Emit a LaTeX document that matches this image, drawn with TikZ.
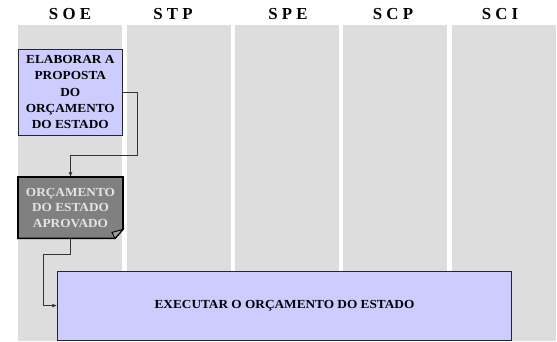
\documentclass[tikz,border=0pt]{standalone}
\usepackage{fontspec}
\setmainfont{Liberation Serif}
\newfontfamily\boxfont{Liberation Serif}[FakeStretch=1.08]
\usetikzlibrary{arrows.meta}
\definecolor{lanegray}{HTML}{DDDDDD}
\definecolor{lav}{HTML}{CCCCFF}
\definecolor{dgray}{HTML}{808080}
\definecolor{flapgray}{HTML}{A0A0A0}
\definecolor{ltxt}{HTML}{E4E4E4}
\begin{document}
\begin{tikzpicture}[x=1pt,y=-1pt,
  lanebox/.style={fill=lanegray,draw=none,inner sep=0,minimum width=104pt,minimum height=316pt,anchor=north},
  hdr/.style={anchor=base,font=\fontsize{16.8}{20}\selectfont\bfseries,inner sep=0},
  proc/.style={draw=black!85,line width=0.8pt,fill=lav,inner sep=0,align=center,
    font=\boxfont\fontsize{12.3}{16.3}\selectfont\bfseries},
  docbox/.style={inner sep=0,align=center,text=ltxt,
    font=\boxfont\fontsize{12.3}{15.5}\selectfont\bfseries},
  conn/.style={draw=black!80,line width=0.8pt},
  tip/.style={-{Latex[length=4.5pt,width=4pt]}}]
\useasboundingbox (0,0) rectangle (557,341);
\fill[white] (0,0) rectangle (557,341);
% lanes
\node[lanebox] (l1) at (70,25) {};
\node[lanebox] (l2) at (179,25) {};
\node[lanebox] (l3) at (287,25) {};
\node[lanebox] (l4) at (395,25) {};
\node[lanebox] (l5) at (504,25) {};
% headers
\node[hdr] (h1) at (70,19.7) {S O E};
\node[hdr] (h2) at (173,19.7) {S T P};
\node[hdr] (h3) at (288,19.7) {S P E};
\node[hdr] (h4) at (393,19.7) {S C P};
\node[hdr] (h5) at (500,19.7) {S C I};
% box 1
\node[proc,minimum width=104pt,minimum height=85.7pt] (b1) at (70.3,92.2)
  {ELABORAR A\\PROPOSTA\\DO\\ORÇAMENTO\\DO ESTADO};
% box 2 (document with folded corner)
\filldraw[fill=dgray,draw=black,line width=1.6pt,line join=miter]
  (18,177) -- (123,177) -- (123,229.3) -- (115,238.3) -- (18,238.3) -- cycle;
\filldraw[fill=flapgray,draw=black,line width=0.9pt,line join=miter]
  (123,229.3) -- (112,232.5) -- (115,238.3) -- cycle;
\node[docbox,minimum width=105pt,minimum height=61.3pt] (b2) at (70.5,207.65)
  {ORÇAMENTO\\DO ESTADO\\APROVADO};
% box 3
\node[proc,minimum width=454.4pt,minimum height=69.3pt] (b3) at (284.5,305.6)
  {EXECUTAR O ORÇAMENTO DO ESTADO};
% connectors
\draw[conn,tip] (b1.east) -- ++(15,0) |- (70.5,155) -- (b2.north);
\draw[conn,tip] (b2.south) -- ++(0,16) -| ([xshift=-14pt]b3.west) -- (b3.west);
\end{tikzpicture}
\end{document}
